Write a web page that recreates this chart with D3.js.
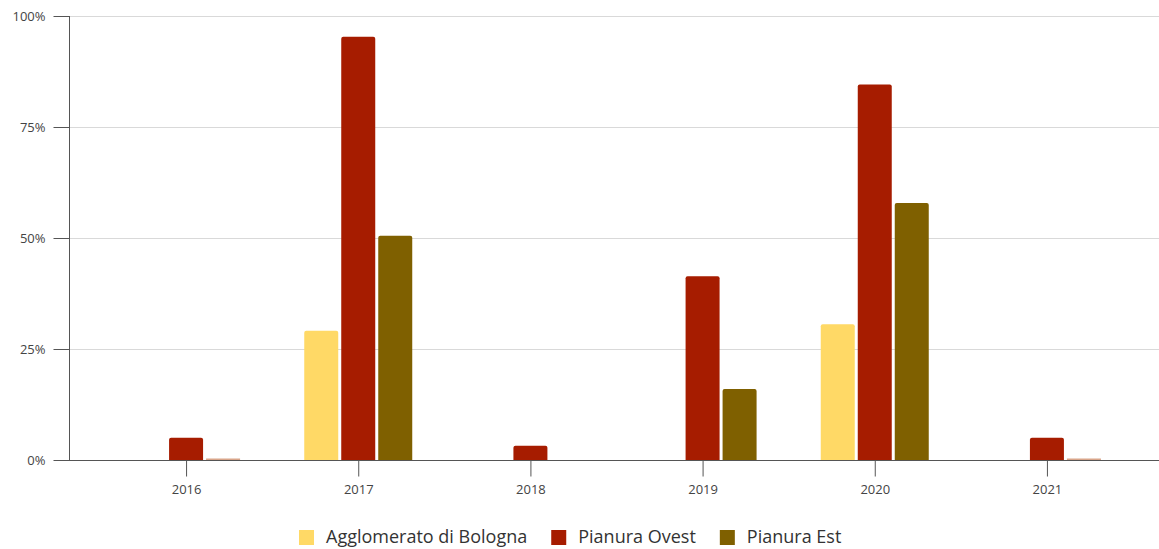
<!DOCTYPE html>
<html>
<head>
<meta charset="utf-8">
<script src="https://cdn.jsdelivr.net/npm/d3@7"></script>
<style>
  html, body { margin: 0; padding: 0; background: #fff; }
  svg { display: block; font-family: "Open Sans", sans-serif; }
</style>
</head>
<body>
<svg id="chart" width="1159" height="549"></svg>
<script>
const years = ["2016", "2017", "2018", "2019", "2020", "2021"];
const seriesNames = ["Agglomerato di Bologna", "Pianura Ovest", "Pianura Est"];
const seriesColors = ["#ffd966", "#a61c00", "#7f6000"];
const agglomeratoBologna = [null, 29.1, null, null, 30.6, null];
const pianuraOvest = [5.0, 95.3, 3.2, 41.4, 84.6, 5.0];
const pianuraEst = [0, 50.5, null, 16.0, 57.9, 0];
const yTicks = [0, 25, 50, 75, 100];

(function () {
const seriesValues = [agglomeratoBologna, pianuraOvest, pianuraEst];

const svg = d3.select("#chart");
const mLeft = 69, mRight = 1159, mTop = 16, mBottom = 460;

const x = d3.scalePoint().domain(years).range([mLeft, 1164]).padding(0.68);
const y = d3.scaleLinear().domain([0, 100]).range([mBottom, mTop]);
const off = d3.scalePoint().domain(seriesNames).range([-37, 37]);
const barW = 34, r = 2;

// gridlines
svg.append("g").selectAll("line").data(yTicks.filter(d => d > 0)).join("line")
  .attr("x1", mLeft).attr("x2", mRight)
  .attr("y1", d => y(d) + 0.5).attr("y2", d => y(d) + 0.5)
  .attr("stroke", "#d9d9d9").attr("stroke-width", 1);

// bars
const bars = [];
seriesValues.forEach((vals, si) => {
  vals.forEach((v, i) => {
    if (v !== null) bars.push({ s: seriesNames[si], color: seriesColors[si], year: years[i], v });
  });
});

function barPath(d) {
  const x0 = x(d.year) + off(d.s) - barW / 2;
  const x1 = x0 + barW;
  const y0 = y(d.v), yb = mBottom;
  const rr = Math.min(r, (yb - y0) / 2);
  return `M${x0},${yb}L${x0},${y0 + rr}Q${x0},${y0} ${x0 + rr},${y0}L${x1 - rr},${y0}Q${x1},${y0} ${x1},${y0 + rr}L${x1},${yb}Z`;
}

svg.append("g").selectAll("path").data(bars.filter(d => d.v > 0)).join("path")
  .attr("d", barPath).attr("fill", d => d.color);

// zero-value bars shown as thin line
svg.append("g").selectAll("rect").data(bars.filter(d => d.v === 0)).join("rect")
  .attr("x", d => x(d.year) + off(d.s) - barW / 2)
  .attr("y", mBottom - 1.5).attr("width", barW).attr("height", 1.5)
  .attr("fill", "#d9a58a");

// y axis
const yAxis = svg.append("g").attr("transform", `translate(${mLeft + 0.5},0)`)
  .call(d3.axisLeft(y).tickValues(yTicks).tickFormat(d => d + "%").tickSize(16).tickPadding(8));
yAxis.select(".domain").attr("stroke", "#555").attr("d", `M0,${mTop}V${mBottom}`);
yAxis.selectAll(".tick line").attr("stroke", "#555");
yAxis.selectAll(".tick text").attr("fill", "#444").attr("font-size", 13).attr("font-family", "Open Sans, sans-serif");

// x axis
const xAxis = svg.append("g").attr("transform", `translate(0,${mBottom + 0.5})`)
  .call(d3.axisBottom(x).tickSize(16).tickPadding(8));
xAxis.select(".domain").attr("stroke", "#555").attr("d", `M${mLeft},0H${mRight}`);
xAxis.selectAll(".tick line").attr("stroke", "#555");
xAxis.selectAll(".tick text").attr("fill", "#444").attr("font-size", 13).attr("font-family", "Open Sans, sans-serif");

// legend
const legend = svg.append("g");
const items = legend.selectAll("g").data(seriesNames).join("g");
items.append("rect").attr("width", 15).attr("height", 15).attr("y", -7)
  .attr("fill", (d, i) => seriesColors[i]);
items.append("text").attr("x", 27).attr("dy", "0.35em")
  .attr("font-size", 18).attr("fill", "#333").text(d => d);
const widths = [];
items.each(function () {
  widths.push(27 + this.querySelector("text").getComputedTextLength());
});
const gap = 24;
let cx = 299;
items.attr("transform", (d, i) => {
  const t = `translate(${cx},537)`;
  cx += widths[i] + gap;
  return t;
});
})();
</script>
</body>
</html>
